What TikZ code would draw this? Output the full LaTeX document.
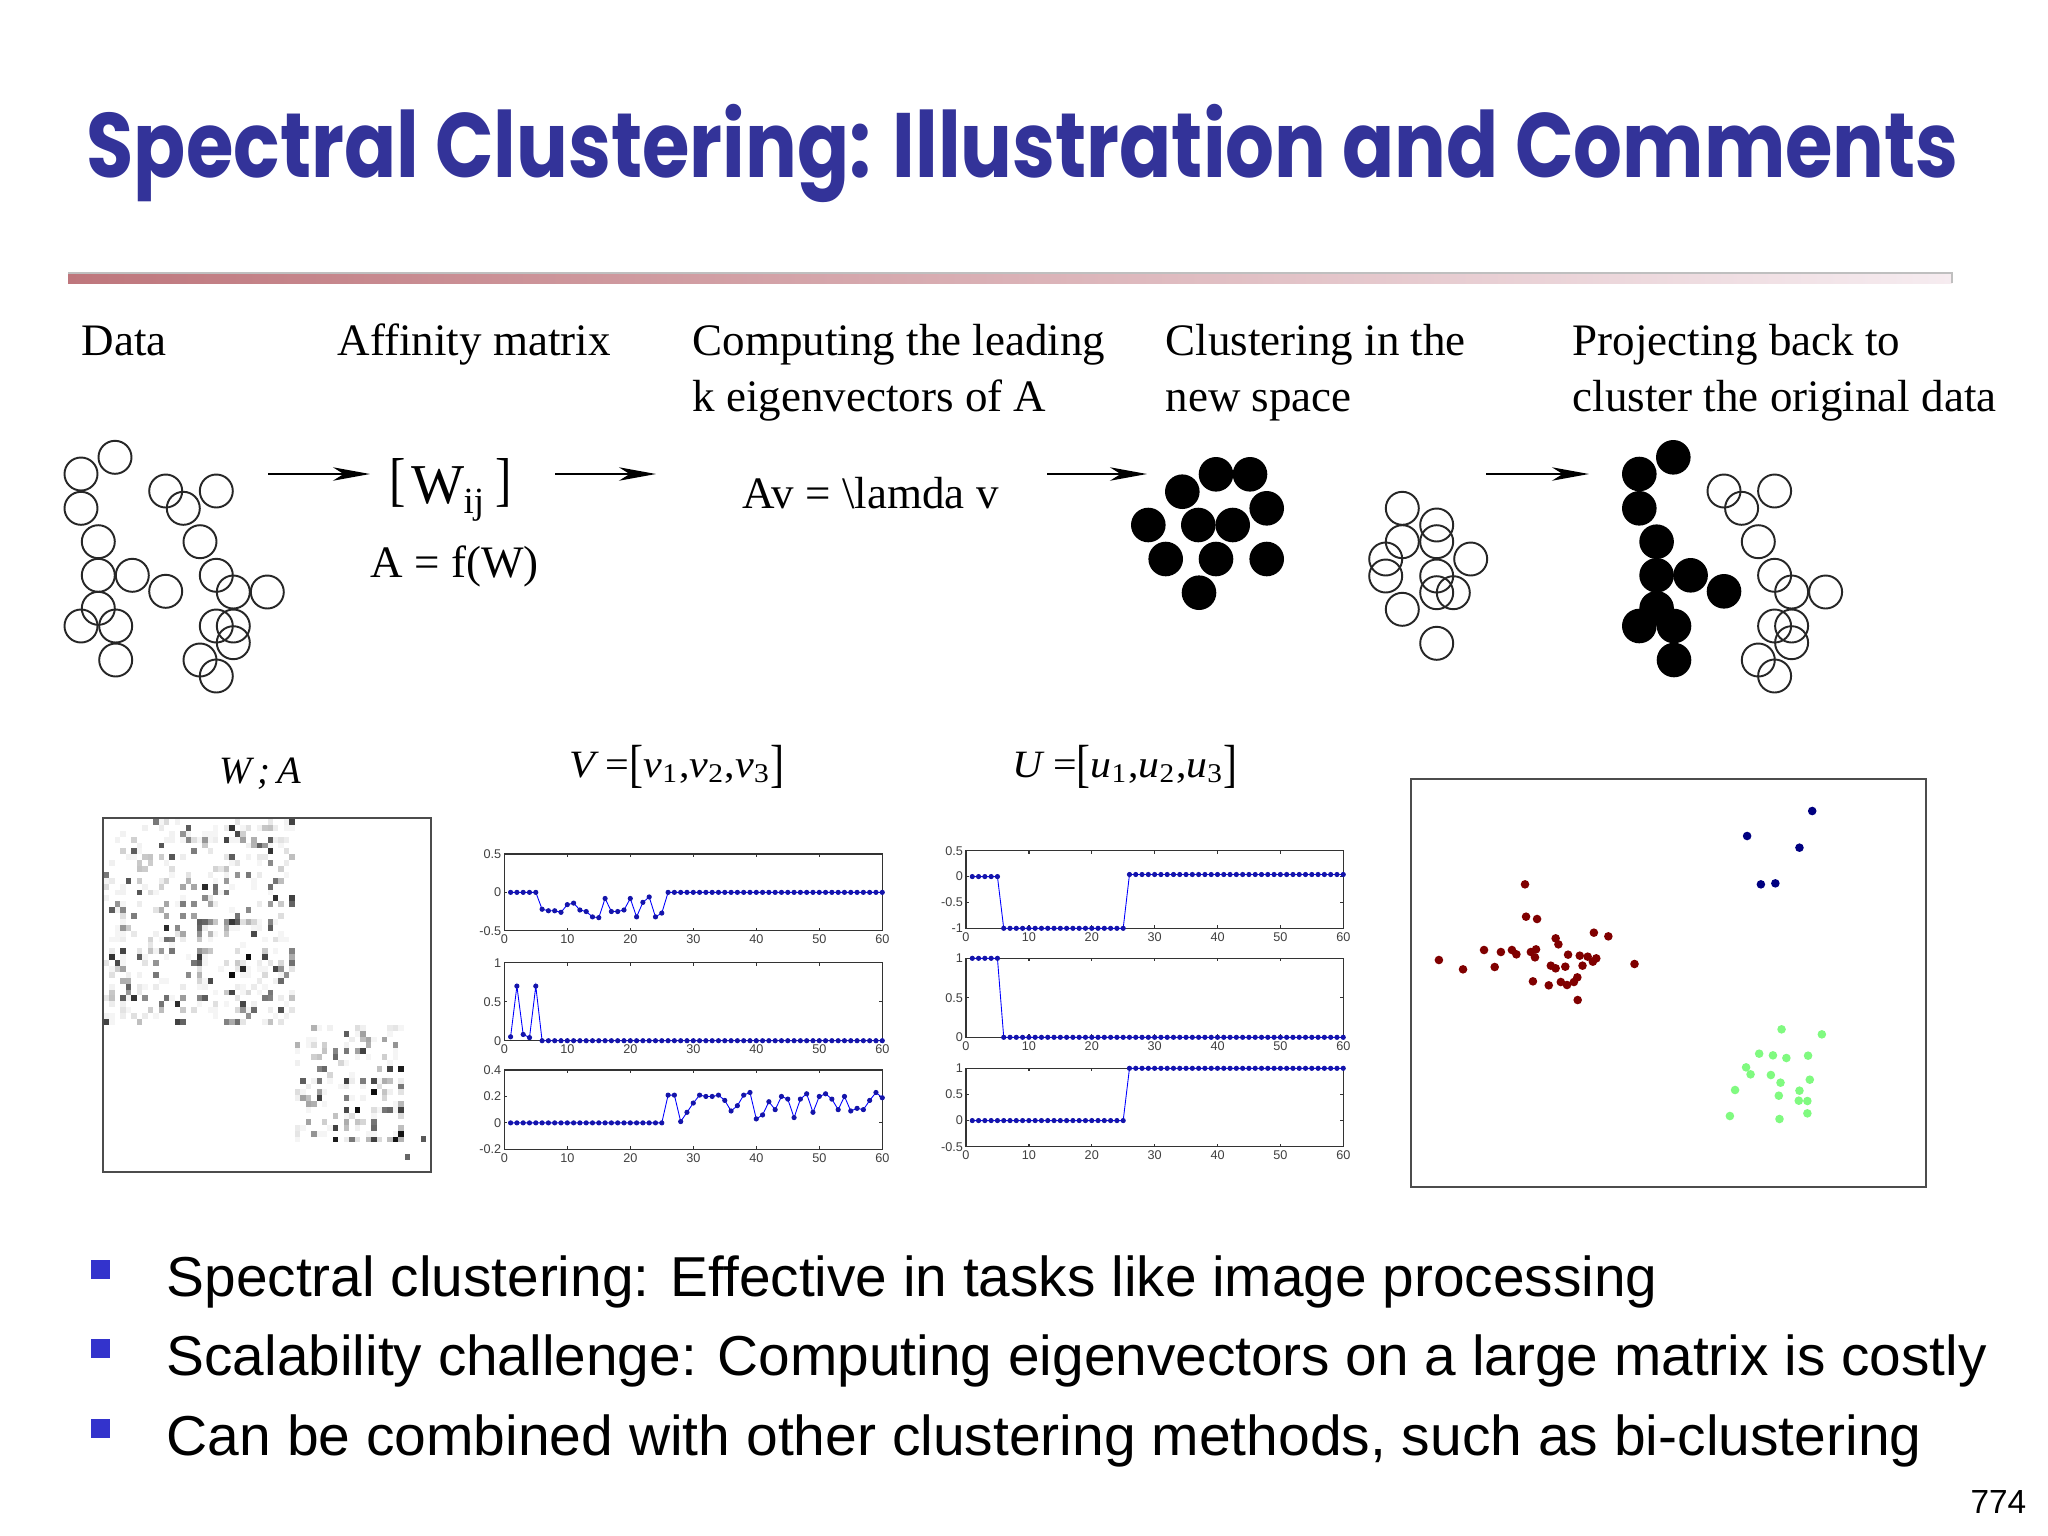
\documentclass[tikz,border=0pt]{standalone}
\usepackage{fontspec}
\usepackage{graphicx}
\setmainfont{Liberation Serif}
\newfontfamily\sansf{Liberation Sans}
\newfontfamily\titlefont{Poppins}
\usetikzlibrary{arrows.meta}
\definecolor{titleblue}{RGB}{51,51,153}
\definecolor{bulletblue}{RGB}{51,51,204}
\definecolor{rulel}{RGB}{190,118,124}
\definecolor{ruler}{RGB}{246,236,240}
\definecolor{dred}{RGB}{128,0,0}
\definecolor{dblue}{RGB}{0,0,128}
\definecolor{lgreen}{RGB}{128,250,128}
\definecolor{plotblue}{RGB}{0,0,255}
\definecolor{markblue}{RGB}{20,20,170}
\newcommand\myfs[1]{\fontsize{#1}{#1}\selectfont}
\newcommand\mkconst[4]{\foreach \kk in {#2,...,#3}{\xdef#1{#1 (\kk,#4)}}}
% data series
\gdef\dVa{}\mkconst\dVa{1}{5}{0}
\xdef\dVa{\dVa (6,-0.22) (7,-0.24) (8,-0.24) (9,-0.26) (10,-0.16) (11,-0.14) (12,-0.23) (13,-0.25) (14,-0.32) (15,-0.33) (16,-0.08) (17,-0.25) (18,-0.25) (19,-0.23) (20,-0.08) (21,-0.32) (22,-0.13) (23,-0.06) (24,-0.32) (25,-0.27)}
\mkconst\dVa{26}{60}{0}
\gdef\dVb{(1,0.05) (2,0.7) (3,0.08) (4,0.04) (5,0.7)}\mkconst\dVb{6}{60}{0}
\gdef\dVc{}\mkconst\dVc{1}{25}{0}
\xdef\dVc{\dVc (26,0.21) (27,0.21) (28,0.01) (29,0.08) (30,0.15) (31,0.21) (32,0.2) (33,0.2) (34,0.21) (35,0.17) (36,0.09) (37,0.13) (38,0.21) (39,0.23) (40,0.03) (41,0.06) (42,0.16) (43,0.1) (44,0.2) (45,0.18) (46,0.04) (47,0.18) (48,0.22) (49,0.08) (50,0.2) (51,0.22) (52,0.18) (53,0.1) (54,0.2) (55,0.09) (56,0.11) (57,0.1) (58,0.17) (59,0.23) (60,0.19)}
\gdef\dUa{}\mkconst\dUa{1}{5}{0}\mkconst\dUa{6}{25}{-1}\mkconst\dUa{26}{60}{0.04}
\gdef\dUb{}\mkconst\dUb{1}{5}{1}\mkconst\dUb{6}{60}{0}
\gdef\dUc{}\mkconst\dUc{1}{25}{0}\mkconst\dUc{26}{60}{1}
\tikzset{
  lbl/.style={anchor=base west, inner sep=0, font=\myfs{12.8pt}},
  arr/.style={line width=0.7pt, -{Stealth[length=10.5pt,width=3.8pt,inset=3pt]}},
  opencirc/.style={draw=black!85, line width=0.55pt},
  ticklbl/.style={font=\sansf\myfs{3.6pt}, text=black!75, inner sep=0.4pt},
  pframe/.style={draw=black!80, line width=0.35pt},
  dataline/.style={draw=plotblue, line width=0.25pt, mark=*, mark size=0.6pt, mark options={fill=markblue, draw=markblue}},
  mframe/.style={draw=black!70, line width=0.6pt},
  bullettext/.style={anchor=base west, inner sep=0}
}
% #1 left #2 top #3 right #4 bottom #5 ymin #6 ymax #7 yticks #8 data
\newcommand\myplot[8]{%
  \pgfmathsetmacro\pSx{(#3-#1)/60}%
  \pgfmathsetmacro\pSy{(#4-#2)/((#6)-(#5))}%
  \pgfmathsetmacro\pOy{#4+(#5)*\pSy}%
  \pgfmathsetmacro\pXu{\pSx*0.01}%
  \pgfmathsetmacro\pYu{\pSy*0.01}%
  \draw[pframe] (#1,#2) rectangle (#3,#4);
  \foreach \tv in {10,20,30,40,50}{%
    \draw[pframe] ({#1+\tv*\pSx},#4) -- ++(0,-3);
    \draw[pframe] ({#1+\tv*\pSx},#2) -- ++(0,3);}
  \foreach \tv in {0,10,...,60}{%
    \node[ticklbl, anchor=north] at ({#1+\tv*\pSx},{#4+2}) {\tv};}
  \foreach \yv/\ylab in {#7}{%
    \draw[pframe] (#1,{#4-(\yv-(#5))*\pSy}) -- ++(3,0);
    \draw[pframe] (#3,{#4-(\yv-(#5))*\pSy}) -- ++(-3,0);
    \node[ticklbl, anchor=east] at ({#1-1},{#4-(\yv-(#5))*\pSy}) {\ylab};}
  \begin{scope}[shift={(#1,\pOy)}, x=\pXu cm, y=\pYu cm]
    \edef\plotcmd{\noexpand\draw[dataline] plot coordinates {#8};}\plotcmd
  \end{scope}
}
\newcommand\vsub[2]{{\itshape #1}\textsubscript{#2}}
\newcommand\tallbr[1]{\raisebox{-0.12em}{\scalebox{1}[1.35]{#1}}}
\begin{document}
\begin{tikzpicture}[x=0.01cm,y=-0.01cm]
\useasboundingbox[fill=white] (0,0) rectangle (2048,1536);
% title and rule
\node[anchor=base west, inner sep=0, text=titleblue] (title) at (86,177)
  {\resizebox{18.71cm}{\height}{\titlefont\bfseries\myfs{26pt}Spectral Clustering: Illustration and Comments}};
\shade[left color=rulel, right color=ruler] (68,273) rectangle (1952,283);
\draw[black!25, line width=0.3pt] (68,273) -- (1952,273) -- (1952,283);
% step labels
\node[lbl] (l1) at (81,355) {Data};
\node[lbl] (l2) at (337,355) {Affinity matrix};
\node[lbl] (l3a) at (692,355) {Computing the leading};
\node[lbl] (l3b) at (692,411) {k eigenvectors of A};
\node[lbl] (l4a) at (1165,355) {Clustering in the};
\node[lbl] (l4b) at (1165,411) {new space};
\node[lbl] (l5a) at (1572,355) {Projecting back to};
\node[lbl] (l5b) at (1572,411) {cluster the original data};
% data circles
\def\leftpts{115/457.3, 81/474, 81/508.3, 98.3/541.7, 98.3/575.3, 132.3/575.3, 98.3/608.3, 81/626, 115.7/626, 115.7/660, 165.7/591.3}
\def\rightpts{165.7/491, 183.3/508.3, 216.3/491, 200/541.7, 216.3/575.3, 233.3/592, 267.3/592, 216.3/626, 233.3/626, 233.3/642.7, 200/660, 216.3/676}
\foreach \x/\y in \leftpts {\draw[opencirc] (\x,\y) circle[radius=16.5];}
\foreach \x/\y in \rightpts {\draw[opencirc] (\x,\y) circle[radius=16.5];}
% matrix text
\node[anchor=base west, inner sep=0, font=\myfs{14pt}] (wl) at (389,499) {\scalebox{1}[1.2]{[}};
\node[anchor=base west, inner sep=0, font=\myfs{16pt}] (ww) at (411,503) {W};
\node[anchor=base west, inner sep=0, font=\myfs{10.5pt}] (wij) at (463,513) {ij};
\node[anchor=base east, inner sep=0, font=\myfs{14pt}] (wr) at (513,499) {\scalebox{1}[1.2]{]}};
\node[lbl] (af) at (370,577) {A = f(W)};
\node[lbl] (ev) at (742,508) {Av = \textbackslash lamda v};
% arrows
\coordinate (a1s) at (268,474); \coordinate (a1e) at (370,474);
\coordinate (a2s) at (555,474); \coordinate (a2e) at (656,474);
\coordinate (a3s) at (1047,474); \coordinate (a3e) at (1147,474);
\coordinate (a4s) at (1486,474); \coordinate (a4e) at (1589,474);
\draw[arr] (a1s) -- (a1e);
\draw[arr] (a2s) -- (a2e);
\draw[arr] (a3s) -- (a3e);
\draw[arr] (a4s) -- (a4e);
% new space
\foreach \x/\y in {1216/474.3, 1250/474.3, 1182.3/491.7, 1266.7/508.3, 1148.3/525, 1198.3/525, 1232.7/525, 1165.7/559, 1216/559, 1266.7/559, 1199/592.7}
  {\fill (\x,\y) circle[radius=17.3];}
\foreach \x/\y in {1402.3/508.3, 1436.7/525, 1402.3/541.7, 1436.7/541.7, 1385.7/559, 1470.7/559, 1385.7/576, 1436.7/576, 1436.7/592.7, 1453.3/592.7, 1402.3/609.3, 1436.7/643.3}
  {\draw[opencirc] (\x,\y) circle[radius=16.5];}
% projected back
\foreach \x/\y in \leftpts {\fill ({\x+1558.3},\y) circle[radius=17.3];}
\foreach \x/\y in \rightpts {\draw[opencirc] ({\x+1558.3},\y) circle[radius=16.5];}
% bottom labels
\node[anchor=base, inner sep=0, font=\myfs{11pt}\itshape] (wa) at (260,783) {W\,;\,A};
\node[anchor=base west, inner sep=0] (vl) at (569,777)
  {\resizebox{2.15cm}{\height}{\myfs{11pt}{\itshape V} =\tallbr{[}\vsub{v}{1},\vsub{v}{2},\vsub{v}{3}\tallbr{]}}};
\node[anchor=base west, inner sep=0] (ul) at (1012,777)
  {\resizebox{2.25cm}{\height}{\myfs{11pt}{\itshape U} =\tallbr{[}\vsub{u}{1},\vsub{u}{2},\vsub{u}{3}\tallbr{]}}};
% affinity matrix image
\foreach \i in {0,...,34}{\foreach \j in {0,...,34}{%
  \pgfmathsetmacro\mA{min(\i,\j)}\pgfmathsetmacro\mB{max(\i,\j)}%
  \pgfmathsetmacro\mH{mod(abs(sin(\mA*127.1+\mB*311.7+13.3)*977.31),1)}%
  \ifdim\mH pt<0.3pt
    \pgfmathsetmacro\mK{mod(abs(cos(\mA*269.5+\mB*183.3+7.1)*719.13),1)}%
    \pgfmathsetmacro\mG{int(4+92*\mK*\mK*\mK)}%
    \fill[black!\mG] ({104+\j*5.45},{819+\i*5.88}) rectangle ++(5.45,5.88);
  \fi}}
\foreach \i in {0,...,19}{\foreach \j in {0,...,19}{%
  \pgfmathsetmacro\mA{min(\i,\j)}\pgfmathsetmacro\mB{max(\i,\j)}%
  \pgfmathsetmacro\mH{mod(abs(sin(\mA*211.3+\mB*97.9+41.7)*853.17),1)}%
  \ifdim\mH pt<0.3pt
    \pgfmathsetmacro\mK{mod(abs(cos(\mA*157.3+\mB*331.1+3.9)*619.71),1)}%
    \pgfmathsetmacro\mG{int(4+92*\mK*\mK*\mK)}%
    \fill[black!\mG] ({294.75+\j*5.45},{1024.8+\i*5.88}) rectangle ++(5.45,5.88);
  \fi}}
\fill[black!65] (420.5,1136) rectangle ++(5.45,5.88);
\fill[black!60] (404.5,1154) rectangle ++(5.45,5.88);
\draw[mframe] (103,818) rectangle (431,1172);
% eigenvector plots
\myplot{504.3}{854}{882.3}{930.7}{-0.5}{0.5}{0.5/0.5,0/0,-0.5/-0.5}{\dVa}
\myplot{504.3}{962.7}{882.3}{1040.7}{0}{1}{1/1,0.5/0.5,0/0}{\dVb}
\myplot{504.3}{1070}{882.3}{1149.3}{-0.2}{0.4}{0.4/0.4,0.2/0.2,0/0,-0.2/-0.2}{\dVc}
\myplot{966}{850.7}{1343.3}{928.3}{-1}{0.5}{0.5/0.5,0/0,-0.5/-0.5,-1/-1}{\dUa}
\myplot{966}{958.3}{1343.3}{1037.3}{0}{1}{1/1,0.5/0.5,0/0}{\dUb}
\myplot{966}{1068.3}{1343.3}{1146.7}{-0.5}{1}{1/1,0.5/0.5,0/0,-0.5/-0.5}{\dUc}
% scatter
\draw[mframe] (1411,779) rectangle (1926,1187);
\foreach \x/\y in {363/343, 366/440, 398/447, 563/488, 605/499, 452/505, 460/523, 244/540, 293/546, 325/540, 338/553, 380/546, 395/538, 392/562, 488/554, 522/557, 545/560, 570/565, 560/575, 113/570, 183/598, 275/591, 438/587, 452/595, 480/590, 530/587, 681/582, 386/634, 432/646, 467/636, 485/645, 505/636, 515/622, 516/690}
  {\fill[dred] ({1400+\x/2.904},{770+\y/3}) circle[radius=4.3];}
\foreach \x/\y in {1197/123, 1008/198, 1160/233, 1048/343, 1090/340}
  {\fill[dblue] ({1400+\x/2.904},{770+\y/3}) circle[radius=4.3];}
\foreach \x/\y in {1108/778, 1225/793, 1043/851, 1083/856, 1122/864, 1185/857, 1005/892, 1018/913, 1077/915, 1105/938, 1190/929, 973/960, 1160/962, 1100/977, 1158/992, 1183/993, 1183/1030, 958/1038, 1102/1047}
  {\fill[lgreen] ({1400+\x/2.904},{770+\y/3}) circle[radius=4.3];}
% bullets
\fill[bulletblue] (91,1260) rectangle (110,1279);
\fill[bulletblue] (91,1339) rectangle (110,1358);
\fill[bulletblue] (91,1419) rectangle (110,1438);
\node[bullettext] (b1) at (166,1296) {\resizebox{14.90cm}{\height}{\sansf\myfs{16pt}Spectral clustering: Effective in tasks like image processing}};
\node[bullettext] (b2) at (166,1375) {\resizebox{18.19cm}{\height}{\sansf\myfs{16pt}Scalability challenge: Computing eigenvectors on a large matrix is costly}};
\node[bullettext] (b3) at (166,1455) {\resizebox{17.54cm}{\height}{\sansf\myfs{16pt}Can be combined with other clustering methods, such as bi-clustering}};
\node[anchor=base east, inner sep=0, font=\sansf\myfs{9.5pt}] (pg) at (2027,1513) {774};
\end{tikzpicture}
\end{document}
